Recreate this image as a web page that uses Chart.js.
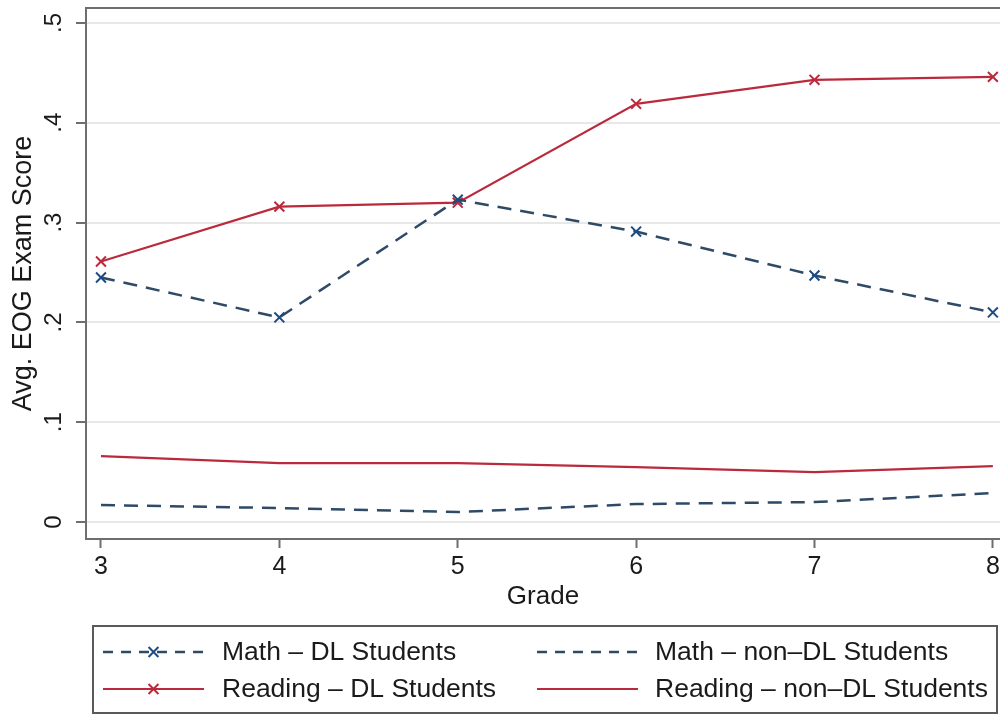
<!DOCTYPE html>
<html>
<head>
<meta charset="utf-8">
<script src="https://cdn.jsdelivr.net/npm/chart.js@4/dist/chart.umd.min.js"></script>
<style>
  html, body { margin: 0; padding: 0; background: #ffffff; }
  #wrap { width: 1000px; height: 715px; position: relative; }
</style>
</head>
<body>
<div id="wrap"><canvas id="c" width="1000" height="715"></canvas></div>
<script>
// ---- Data ----
const grades = [3, 4, 5, 6, 7, 8];
const mathDL = [0.245, 0.205, 0.323, 0.291, 0.247, 0.210];
const readingDL = [0.261, 0.316, 0.320, 0.419, 0.443, 0.446];
const mathNonDL = [0.017, 0.014, 0.010, 0.018, 0.020, 0.029];
const readingNonDL = [0.066, 0.059, 0.059, 0.055, 0.050, 0.056];
const yTickValues = [0, 0.1, 0.2, 0.3, 0.4, 0.5];
const yTickLabels = ['0', '.1', '.2', '.3', '.4', '.5'];
const seriesNames = ['Math \u2013 DL Students', 'Reading \u2013 DL Students', 'Math \u2013 non\u2013DL Students', 'Reading \u2013 non\u2013DL Students'];
const xTitle = 'Grade';
const yTitle = 'Avg. EOG Exam Score';

const FONT = "'Liberation Sans', Arial, Helvetica, sans-serif";
const RED = '#bb2a3c';
const NAVY = '#2e4a66';
const NAVY_MK = '#1d4c82';
const AXIS = '#6e6e6e';

const toPts = arr => grades.map((g, i) => ({ x: g, y: arr[i] }));

const datasets = [
  { label: seriesNames[0], data: toPts(mathDL), borderColor: NAVY, borderWidth: 2.5, borderDash: [14, 9],
    pointStyle: 'crossRot', pointRadius: 7, pointBorderColor: NAVY_MK, pointBorderWidth: 2, pointBackgroundColor: NAVY_MK },
  { label: seriesNames[1], data: toPts(readingDL), borderColor: RED, borderWidth: 2.2, borderDash: [],
    pointStyle: 'crossRot', pointRadius: 7, pointBorderColor: RED, pointBorderWidth: 2, pointBackgroundColor: RED },
  { label: seriesNames[2], data: toPts(mathNonDL), borderColor: NAVY, borderWidth: 2.5, borderDash: [14, 9],
    pointRadius: 0 },
  { label: seriesNames[3], data: toPts(readingNonDL), borderColor: RED, borderWidth: 2.2, borderDash: [],
    pointRadius: 0 }
];
datasets.forEach(d => { d.tension = 0; d.fill = false; d.pointHoverRadius = d.pointRadius; });

const frameAndLegend = {
  id: 'frameAndLegend',
  afterDraw(chart) {
    const ctx = chart.ctx;
    const ca = chart.chartArea;
    const ys = chart.scales.y;
    ctx.save();
    // top frame line
    ctx.strokeStyle = AXIS;
    ctx.lineWidth = 2;
    ctx.beginPath();
    ctx.moveTo(ca.left, ca.top);
    ctx.lineTo(ca.right, ca.top);
    ctx.stroke();

    // rotated y tick labels
    ctx.fillStyle = '#1a1a1a';
    ctx.font = '24px ' + FONT;
    ctx.textAlign = 'center';
    ctx.textBaseline = 'middle';
    yTickValues.forEach((v, i) => {
      const py = ys.getPixelForValue(v);
      ctx.save();
      ctx.translate(54, py);
      ctx.rotate(-Math.PI / 2);
      ctx.fillText(yTickLabels[i], 0, 0);
      ctx.restore();
    });

    // legend box
    const bx = 93, by = 626, bw = 904, bh = 87;
    ctx.strokeStyle = '#5a5a5a';
    ctx.lineWidth = 2;
    ctx.strokeRect(bx, by, bw, bh);

    const slots = [
      { ds: 0, x0: 103, x1: 204, tx: 222, y: 652 },
      { ds: 1, x0: 103, x1: 204, tx: 222, y: 689 },
      { ds: 2, x0: 537, x1: 638, tx: 655, y: 652 },
      { ds: 3, x0: 537, x1: 638, tx: 655, y: 689 }
    ];
    slots.forEach(s => {
      const d = chart.data.datasets[s.ds];
      ctx.save();
      ctx.strokeStyle = d.borderColor;
      ctx.lineWidth = d.borderWidth;
      ctx.setLineDash(d.borderDash && d.borderDash.length ? [10, 8] : []);
      ctx.beginPath();
      ctx.moveTo(s.x0, s.y);
      ctx.lineTo(s.x1, s.y);
      ctx.stroke();
      ctx.setLineDash([]);
      if (d.pointRadius > 0) {
        const cx = (s.x0 + s.x1) / 2;
        ctx.strokeStyle = d.pointBorderColor;
        ctx.fillStyle = d.pointBackgroundColor;
        ctx.lineWidth = d.pointBorderWidth;
        Chart.helpers.drawPoint(ctx, {
          pointStyle: d.pointStyle, radius: d.pointRadius, rotation: 0, borderWidth: d.pointBorderWidth
        }, cx, s.y);
      }
      ctx.fillStyle = '#1a1a1a';
      ctx.font = '26.5px ' + FONT;
      ctx.textAlign = 'left';
      ctx.textBaseline = 'middle';
      ctx.fillText(d.label, s.tx, s.y + 1);
      ctx.restore();
    });
    ctx.restore();
  }
};

new Chart(document.getElementById('c'), {
  type: 'line',
  data: { datasets },
  options: {
    responsive: false,
    animation: false,
    events: [],
    layout: { autoPadding: false, padding: { top: 8, right: 0, bottom: 102, left: 0 } },
    plugins: { legend: { display: false }, tooltip: { enabled: false }, title: { display: false } },
    scales: {
      x: {
        type: 'linear',
        min: 2.916,
        max: 8.04,
        afterBuildTicks: s => { s.ticks = grades.map(v => ({ value: v })); },
        afterFit: s => { s.height = 74; s.paddingLeft = 0; s.paddingRight = 0; },
        grid: { display: true, drawOnChartArea: false, drawTicks: true, tickLength: 9, tickColor: AXIS, tickWidth: 2, color: AXIS },
        border: { display: true, color: AXIS, width: 2 },
        ticks: { color: '#1a1a1a', font: { family: FONT, size: 25 }, padding: 4, maxRotation: 0, minRotation: 0,
                 callback: v => String(v) },
        title: { display: true, text: xTitle, color: '#1a1a1a', font: { family: FONT, size: 26 }, padding: { top: 0, bottom: 1 } }
      },
      y: {
        type: 'linear',
        min: -0.017,
        max: 0.515,
        afterBuildTicks: s => { s.ticks = yTickValues.map(v => ({ value: v })); },
        afterFit: s => { s.width = 86; s.paddingTop = 0; s.paddingBottom = 0; },
        grid: { display: true, drawOnChartArea: true, drawTicks: true, tickLength: 10, color: '#e8e8e8', lineWidth: 2,
                tickColor: AXIS, tickWidth: 2 },
        border: { display: true, color: AXIS, width: 2 },
        ticks: { display: false },
        title: { display: true, text: yTitle, color: '#1a1a1a', font: { family: FONT, size: 27 }, padding: { top: 7, bottom: 0 } }
      }
    }
  },
  plugins: [frameAndLegend]
});
</script>
</body>
</html>
